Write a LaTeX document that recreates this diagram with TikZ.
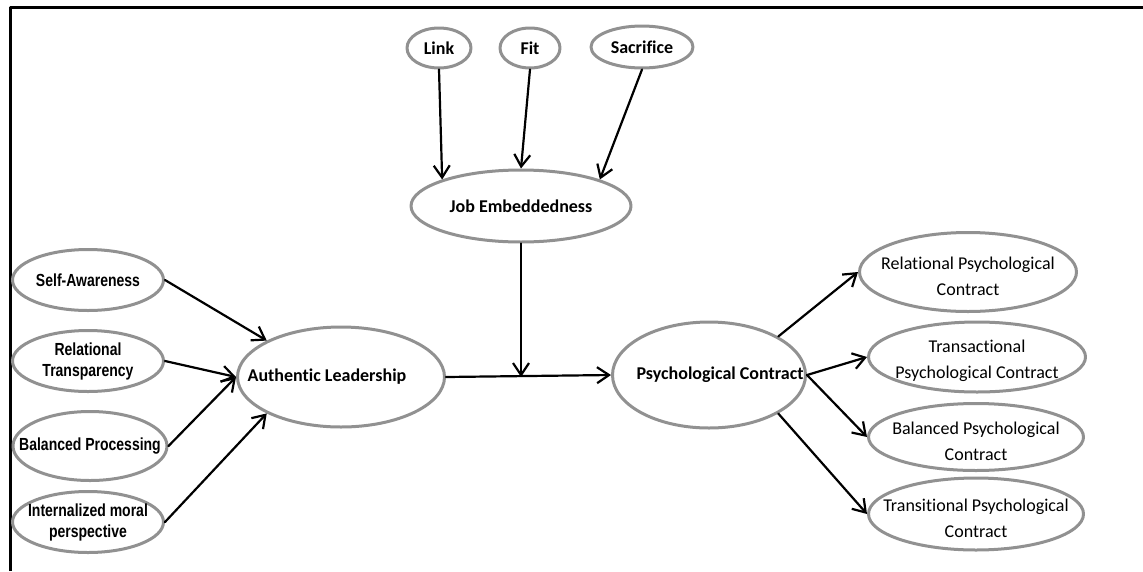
\documentclass[tikz,border=0pt]{standalone}
\usepackage{fontspec}
\setmainfont{Carlito}[Ligatures=NoCommon]
\newfontfamily\narrowfont[FakeStretch=0.8]{Liberation Sans}
\usetikzlibrary{shapes.geometric,arrows.meta}
\definecolor{ellgray}{RGB}{145,145,145}
\begin{document}
\begin{tikzpicture}[x=1pt,y=-1pt,line join=round,line cap=round]
	\tikzset{ell/.style 2 args={ellipse,draw=ellgray,line width=3pt,fill=white,minimum width=#1,minimum height=#2,inner sep=0pt},
		txtb/.style={font=\fontsize{18}{22}\selectfont\bfseries,align=center},
		txtn/.style={font=\narrowfont\fontsize{17.5}{21}\selectfont\bfseries,align=center},
		txtr/.style={font=\fontsize{18}{26}\selectfont,align=center,yshift=-4pt},
		arr/.style={-{Straight Barb[length=12pt,width=16pt]},line width=2.2pt}}
	\useasboundingbox (0,0) rectangle (1143,571);
	\draw[line width=3pt,line cap=butt] (10.5,571) |- (1143,7.5);
	% moderator
	\node[ell={64}{40},label={[txtb]center:Link}] (link) at (439,48) {};
	\node[ell={60}{40},label={[txtb]center:Fit}] (fit) at (530,48) {};
	\node[ell={102}{42},label={[txtb]center:Sacrifice}] (sac) at (642,47) {};
	\node[ell={220}{72},label={[txtb]center:Job Embeddedness}] (je) at (521,206) {};
	% independent variable
	\node[ell={151}{61},label={[txtn]center:Self-Awareness}] (sa) at (88,280) {};
	\node[ell={151}{61},label={[txtn]center:Relational\\Transparency}] (rt) at (88,361) {};
	\node[ell={154}{69},label={[txtn]center:Balanced Processing}] (bp) at (90,446) {};
	\node[ell={151}{61},label={[txtn]center:Internalized moral\\perspective}] (imp) at (88,522) {};
	\node[ell={207}{100},label={[txtb,xshift=-14pt]center:Authentic Leadership}] (al) at (341,377) {};
	% dependent variable
	\node[ell={193}{106},label={[txtb,xshift=11pt]center:Psychological Contract}] (pc) at (709,375) {};
	\node[ell={217}{79},label={[txtr]center:Relational Psychological\\Contract}] (rpc) at (968,272) {};
	\node[ell={217}{70},label={[txtr]center:Transactional\\Psychological Contract}] (tpc) at (977,357) {};
	\node[ell={215}{67},label={[txtr]center:Balanced Psychological\\Contract}] (bpc) at (976,437) {};
	\node[ell={215}{72},label={[txtr]center:Transitional Psychological\\Contract}] (trpc) at (976,514) {};
	\draw[arr] (link.south)--(je.north west);
	\draw[arr] (fit.south)--(je.north);
	\draw[arr] (sac.south)--(je.north east);
	\coordinate (jm) at (je.south |- al.east);
	\draw[arr] (je.south)--(jm);
	\draw[arr] (al.east)--(pc.west);
	\draw[arr] (sa.east)--(al.north west);
	\draw[arr] (rt.east)--(al.west);
	\draw[arr] (bp.east)--(al.west);
	\draw[arr] (imp.east)--(al.south west);
	\draw[arr] (pc.north east)--(rpc.west);
	\draw[arr] (pc.east)--(tpc.west);
	\draw[arr] (pc.east)--(bpc.west);
	\draw[arr] (pc.south east)--(trpc.west);
\end{tikzpicture}
\end{document}
